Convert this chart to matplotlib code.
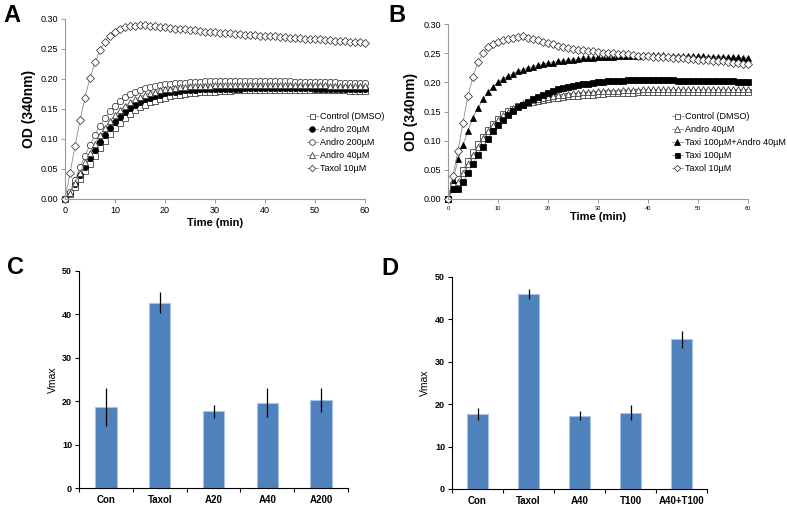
import numpy as np
import matplotlib
matplotlib.use("Agg")
import matplotlib.pyplot as plt
from matplotlib.ticker import FormatStrFormatter

plt.rcParams['font.family'] = ['Liberation Sans', 'DejaVu Sans']

minutes = np.arange(61)

# panel A: OD (340nm) per minute
ctrl_a = [0.000, 0.008, 0.020, 0.033, 0.046, 0.059, 0.072, 0.085, 0.097, 0.108,
          0.118, 0.127, 0.135, 0.142, 0.148, 0.153, 0.157, 0.161, 0.164, 0.167,
          0.169, 0.171, 0.173, 0.174, 0.175, 0.176, 0.177, 0.178, 0.178, 0.179,
          0.179, 0.180, 0.180, 0.180, 0.181, 0.181, 0.181, 0.181, 0.181, 0.181,
          0.181, 0.181, 0.182, 0.182, 0.182, 0.182, 0.182, 0.182, 0.182, 0.182,
          0.182, 0.182, 0.181, 0.181, 0.181, 0.181, 0.181, 0.180, 0.180, 0.180,
          0.180]
andro20_a = [0.000, 0.010, 0.025, 0.040, 0.054, 0.068, 0.082, 0.095, 0.107, 0.118,
             0.128, 0.137, 0.145, 0.151, 0.157, 0.162, 0.166, 0.169, 0.172, 0.174,
             0.176, 0.178, 0.179, 0.180, 0.181, 0.182, 0.182, 0.183, 0.183, 0.183,
             0.184, 0.184, 0.184, 0.184, 0.184, 0.184, 0.185, 0.185, 0.185, 0.185,
             0.185, 0.185, 0.185, 0.185, 0.185, 0.185, 0.185, 0.185, 0.185, 0.185,
             0.184, 0.184, 0.184, 0.184, 0.184, 0.184, 0.184, 0.184, 0.184, 0.184,
             0.184]
andro200_a = [0.000, 0.012, 0.032, 0.053, 0.072, 0.090, 0.107, 0.122, 0.135, 0.146,
              0.155, 0.163, 0.170, 0.175, 0.179, 0.182, 0.185, 0.187, 0.189, 0.190,
              0.191, 0.192, 0.193, 0.194, 0.194, 0.195, 0.195, 0.195, 0.196, 0.196,
              0.196, 0.196, 0.196, 0.196, 0.196, 0.196, 0.196, 0.196, 0.196, 0.196,
              0.196, 0.196, 0.196, 0.196, 0.196, 0.196, 0.195, 0.195, 0.195, 0.195,
              0.195, 0.195, 0.195, 0.195, 0.195, 0.194, 0.194, 0.194, 0.194, 0.194,
              0.194]
andro40_a = [0.000, 0.010, 0.027, 0.044, 0.061, 0.077, 0.092, 0.106, 0.119, 0.130,
             0.140, 0.148, 0.155, 0.161, 0.166, 0.170, 0.174, 0.177, 0.179, 0.181,
             0.183, 0.184, 0.185, 0.186, 0.187, 0.188, 0.188, 0.189, 0.189, 0.189,
             0.190, 0.190, 0.190, 0.190, 0.190, 0.190, 0.190, 0.190, 0.190, 0.190,
             0.190, 0.190, 0.190, 0.190, 0.190, 0.190, 0.190, 0.190, 0.190, 0.190,
             0.190, 0.190, 0.190, 0.189, 0.189, 0.189, 0.189, 0.189, 0.189, 0.189,
             0.189]
taxol_a = [0.000, 0.043, 0.088, 0.131, 0.169, 0.202, 0.228, 0.248, 0.262, 0.272,
           0.278, 0.283, 0.286, 0.288, 0.289, 0.290, 0.290, 0.289, 0.288, 0.287,
           0.286, 0.285, 0.284, 0.283, 0.283, 0.282, 0.281, 0.280, 0.279, 0.279,
           0.278, 0.277, 0.277, 0.276, 0.275, 0.275, 0.274, 0.273, 0.273, 0.272,
           0.272, 0.271, 0.271, 0.270, 0.270, 0.269, 0.268, 0.268, 0.267, 0.267,
           0.266, 0.266, 0.265, 0.265, 0.264, 0.264, 0.263, 0.262, 0.262, 0.261,
           0.260]

# panel B
ctrl_b = [0.000, 0.022, 0.034, 0.050, 0.065, 0.080, 0.094, 0.107, 0.119, 0.129,
          0.138, 0.145, 0.151, 0.155, 0.159, 0.162, 0.164, 0.166, 0.168, 0.170,
          0.171, 0.173, 0.174, 0.175, 0.176, 0.177, 0.177, 0.178, 0.179, 0.179,
          0.180, 0.180, 0.181, 0.181, 0.181, 0.182, 0.182, 0.182, 0.183, 0.183,
          0.183, 0.183, 0.183, 0.183, 0.184, 0.184, 0.184, 0.184, 0.184, 0.184,
          0.184, 0.184, 0.184, 0.184, 0.184, 0.184, 0.184, 0.184, 0.184, 0.184,
          0.184]
andro40_b = [0.000, 0.018, 0.030, 0.045, 0.060, 0.075, 0.090, 0.104, 0.116, 0.127,
             0.136, 0.144, 0.150, 0.156, 0.160, 0.164, 0.167, 0.169, 0.171, 0.173,
             0.175, 0.177, 0.178, 0.179, 0.180, 0.181, 0.182, 0.183, 0.184, 0.184,
             0.185, 0.185, 0.186, 0.186, 0.186, 0.187, 0.187, 0.187, 0.187, 0.188,
             0.188, 0.188, 0.188, 0.188, 0.188, 0.188, 0.188, 0.188, 0.188, 0.188,
             0.188, 0.188, 0.188, 0.188, 0.188, 0.188, 0.188, 0.188, 0.188, 0.188,
             0.188]
combo_b = [0.000, 0.032, 0.068, 0.093, 0.117, 0.139, 0.156, 0.171, 0.183, 0.192,
           0.200, 0.206, 0.211, 0.215, 0.219, 0.222, 0.225, 0.227, 0.229, 0.231,
           0.233, 0.234, 0.236, 0.237, 0.238, 0.239, 0.240, 0.241, 0.241, 0.242,
           0.243, 0.243, 0.244, 0.244, 0.245, 0.245, 0.246, 0.246, 0.246, 0.247,
           0.247, 0.247, 0.247, 0.247, 0.246, 0.246, 0.246, 0.246, 0.245, 0.245,
           0.245, 0.245, 0.244, 0.244, 0.244, 0.244, 0.243, 0.243, 0.243, 0.242,
           0.242]
taxi_b = [0.000, 0.017, 0.017, 0.029, 0.045, 0.060, 0.076, 0.090, 0.103, 0.116,
          0.127, 0.136, 0.144, 0.151, 0.157, 0.162, 0.167, 0.171, 0.175, 0.179,
          0.182, 0.185, 0.188, 0.190, 0.192, 0.194, 0.196, 0.197, 0.198, 0.199,
          0.200, 0.201, 0.202, 0.202, 0.203, 0.203, 0.204, 0.204, 0.204, 0.204,
          0.204, 0.204, 0.204, 0.204, 0.204, 0.204, 0.203, 0.203, 0.203, 0.203,
          0.203, 0.203, 0.203, 0.203, 0.203, 0.203, 0.202, 0.202, 0.201, 0.201,
          0.201]
taxol_b = [0.000, 0.040, 0.083, 0.131, 0.177, 0.210, 0.235, 0.250, 0.260, 0.266,
           0.270, 0.273, 0.275, 0.276, 0.277, 0.279, 0.276, 0.274, 0.272, 0.270,
           0.267, 0.265, 0.263, 0.261, 0.259, 0.257, 0.256, 0.255, 0.254, 0.253,
           0.252, 0.251, 0.250, 0.250, 0.249, 0.248, 0.248, 0.247, 0.246, 0.246,
           0.245, 0.244, 0.244, 0.243, 0.243, 0.242, 0.242, 0.241, 0.240, 0.240,
           0.239, 0.238, 0.238, 0.237, 0.236, 0.236, 0.235, 0.234, 0.233, 0.232,
           0.231]

# panels C and D: Vmax bars
groups_c = ['Con', 'Taxol', 'A20', 'A40', 'A200']
vmax_c = [18.7, 42.7, 17.7, 19.7, 20.3]
err_c = [4.3, 2.4, 1.5, 3.3, 2.8]

groups_d = ['Con', 'Taxol', 'A40', 'T100', 'A40+T100']
vmax_d = [17.6, 46.0, 17.3, 18.0, 35.3]
err_d = [1.4, 1.2, 1.0, 1.7, 2.0]

W, H = 787, 509
fig = plt.figure(figsize=(W / 100, H / 100), dpi=100)

# marker sizes (pt) per shape, diamonds in matplotlib come out bigger
msize = {'s': 4.0, 'o': 4.5, '^': 4.5, 'D': 3.6}


def px_axes(left, top, right, bottom):
    return fig.add_axes([left / W, 1 - bottom / H, (right - left) / W, (bottom - top) / H])


def kinetics(ax, series, tick_x_size, leg_xy):
    for y, label, marker, face in series:
        ax.plot(minutes, y, color='#8c8c8c', lw=0.6, marker=marker, ms=msize[marker],
                mfc=face, mec='#333333' if face == 'white' else 'black', mew=0.55,
                label=label, clip_on=False)
    ax.set_xlim(0, 60)
    ax.set_ylim(0, 0.30)
    ax.set_xticks(range(0, 61, 10))
    ax.set_yticks(np.arange(0, 0.31, 0.05))
    ax.yaxis.set_major_formatter(FormatStrFormatter('%.2f'))
    for s in ['top', 'right']:
        ax.spines[s].set_visible(False)
    for s in ['left', 'bottom']:
        ax.spines[s].set_color('#999999')
        ax.spines[s].set_linewidth(0.8)
    ax.tick_params(axis='both', direction='out', length=3, width=0.7, color='#999999', pad=2)
    ax.tick_params(axis='y', labelsize=6.5)
    ax.tick_params(axis='x', labelsize=tick_x_size)
    ax.set_xlabel('Time (min)', fontsize=8, fontweight='bold')
    ax.set_ylabel('OD (340nm)', fontsize=10, fontweight='bold')
    ax.legend(loc='upper left', bbox_to_anchor=(leg_xy[0] / W, 1 - leg_xy[1] / H),
              bbox_transform=fig.transFigure, frameon=False, fontsize=6.5,
              handlelength=1.2, handletextpad=0.2, labelspacing=0.45,
              borderpad=0, borderaxespad=0, markerscale=0.9)


def bars(ax, groups, vals, errs):
    x = np.arange(len(groups))
    ax.bar(x, vals, width=0.4, color='#4f81bd', edgecolor='#a9c4e4', linewidth=0.8,
           yerr=errs, error_kw=dict(ecolor='black', elinewidth=0.9, capsize=0))
    ax.set_xlim(-0.5, len(groups) - 0.5)
    ax.set_ylim(0, 50)
    ax.set_yticks(range(0, 51, 10))
    ax.set_xticks(x)
    ax.set_xticklabels(groups, fontsize=7, fontweight='bold')
    ax.set_xticks(np.arange(-0.5, len(groups)), minor=True)
    ax.tick_params(axis='x', which='major', length=0, pad=5)
    ax.tick_params(axis='x', which='minor', length=3, width=0.8, direction='out')
    ax.tick_params(axis='y', length=3, width=0.8, direction='out', labelsize=6.5, pad=2)
    for lab in ax.get_yticklabels():
        lab.set_fontweight('bold')
    for s in ['top', 'right']:
        ax.spines[s].set_visible(False)
    for s in ['left', 'bottom']:
        ax.spines[s].set_linewidth(0.8)
    ax.set_ylabel('Vmax', fontsize=7.5)


ax_a = px_axes(65, 19, 365, 199)
kinetics(ax_a, [
    (ctrl_a, 'Control (DMSO)', 's', 'white'),
    (andro20_a, 'Andro 20µM', 'o', 'black'),
    (andro200_a, 'Andro 200µM', 'o', 'white'),
    (andro40_a, 'Andro 40µM', '^', 'white'),
    (taxol_a, 'Taxol 10µM', 'D', 'white'),
], 6.5, (307, 112))
ax_a.yaxis.set_label_coords(-0.095, 0.5)
ax_a.xaxis.set_label_coords(0.5, -0.105)

ax_b = px_axes(448, 24, 748, 199)
kinetics(ax_b, [
    (ctrl_b, 'Control (DMSO)', 's', 'white'),
    (andro40_b, 'Andro 40µM', '^', 'white'),
    (combo_b, 'Taxi 100µM+Andro 40µM', '^', 'black'),
    (taxi_b, 'Taxi 100µM', 's', 'black'),
    (taxol_b, 'Taxol 10µM', 'D', 'white'),
], 4, (672, 112))
ax_b.yaxis.set_label_coords(-0.1, 0.5)
ax_b.xaxis.set_label_coords(0.5, -0.075)

ax_c = px_axes(79, 271, 348, 488)
bars(ax_c, groups_c, vmax_c, err_c)
ax_c.yaxis.set_label_coords(-0.078, 0.5)

ax_d = px_axes(452, 277, 707, 489)
bars(ax_d, groups_d, vmax_d, err_d)
ax_d.yaxis.set_label_coords(-0.086, 0.5)

for letter, x, y in [('A', 3, 22), ('B', 388, 22), ('C', 7, 274), ('D', 381, 275)]:
    fig.text(x / W, 1 - y / H, letter, fontsize=17, fontweight='bold', va='baseline', ha='left')

fig.savefig('out.png', dpi=100)
